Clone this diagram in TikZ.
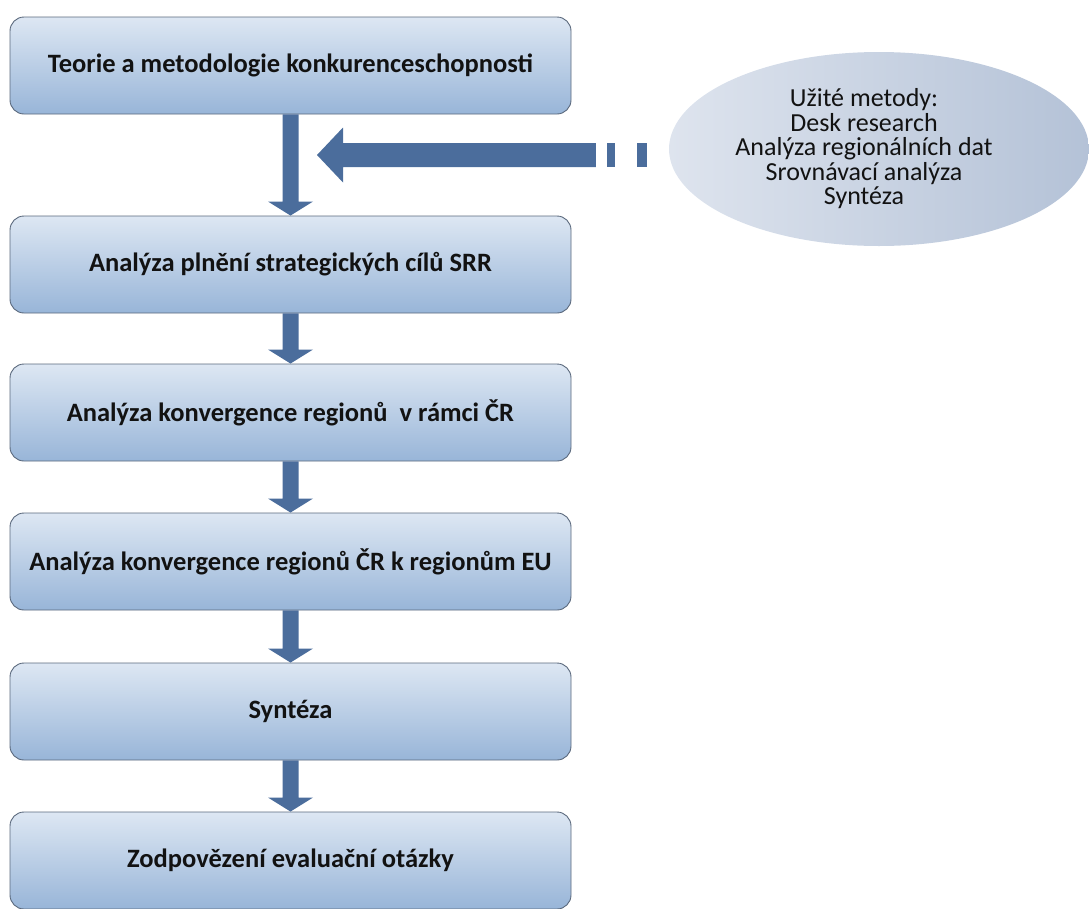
\documentclass[tikz,border=0pt]{standalone}
\usepackage{fontspec}
\setmainfont{Carlito}
\usetikzlibrary{calc,shapes.geometric}
\definecolor{boxtop}{RGB}{221,231,243}
\definecolor{boxbot}{RGB}{152,181,216}
\definecolor{boxline}{RGB}{90,104,124}
\definecolor{arrowblue}{RGB}{75,109,156}
\definecolor{ellight}{RGB}{222,228,238}
\definecolor{eldark}{RGB}{180,194,215}
\definecolor{txt}{RGB}{18,18,18}
\newcommand\flowarrow[2]{%
  \fill[arrowblue] ($(#1.south)+(-8,0)$) -- ($(#2.north)+(-8,-14)$) -- ($(#2.north)+(-22.5,-14)$)
    -- (#2.north) -- ($(#2.north)+(22.5,-14)$) -- ($(#2.north)+(8,-14)$) -- ($(#1.south)+(8,0)$) -- cycle;}
\begin{document}
\begin{tikzpicture}[x=1pt,y=-1pt,
  stepbox/.style={rectangle, rounded corners=14pt, draw=boxline, line width=0.9pt,
    top color=boxtop, bottom color=boxbot, minimum width=561pt, minimum height=97pt,
    inner sep=0pt, font=\fontsize{26.5}{30}\selectfont\bfseries, text=txt},
  methods/.style={ellipse, left color=ellight, right color=eldark, draw=none,
    minimum width=420pt, minimum height=194pt, inner sep=0pt},
  methodstext/.style={align=center, inner sep=0pt,
    font=\fontsize{26}{24.5}\selectfont, text=txt}]
\useasboundingbox (0,0) rectangle (1089,908);
\clip (0,0) rectangle (1089,908);
\node[stepbox] (b1) at (290.5,65.5) {Teorie a metodologie konkurenceschopnosti};
\node[stepbox] (b2) at (290.5,264.5) {Analýza plnění strategických cílů SRR};
\node[stepbox] (b3) at (290.5,412.5) {Analýza konvergence regionů\ \ v rámci ČR};
\node[stepbox] (b4) at (290.5,561.5) {Analýza konvergence regionů ČR k regionům EU};
\node[stepbox] (b5) at (290.5,711.5) {Syntéza};
\node[stepbox] (b6) at (290.5,860.5) {Zodpovězení evaluační otázky};
\node[methods] (e) at (879,149) {};
\node[methodstext] (et) at ($(e.center)+(-15,0)$) {Užité metody:\\Desk research\\Analýza regionálních dat\\Srovnávací analýza\\Syntéza};
\flowarrow{b1}{b2}
\flowarrow{b2}{b3}
\flowarrow{b3}{b4}
\flowarrow{b4}{b5}
\flowarrow{b5}{b6}
\coordinate (hx) at (317,155);
\coordinate (hs) at (hx -| e.west);
\fill[arrowblue] (hx) -- ($(hx)+(26,-27.5)$) -- ($(hx)+(26,-12)$) -- ($(hs)+(-73,-12)$)
  -- ($(hs)+(-73,12)$) -- ($(hx)+(26,12)$) -- ($(hx)+(26,27.5)$) -- cycle;
\fill[arrowblue] ($(hs)+(-62,-12)$) rectangle ($(hs)+(-54,12)$);
\fill[arrowblue] ($(hs)+(-32,-12)$) rectangle ($(hs)+(-22,12)$);
\end{tikzpicture}
\end{document}
